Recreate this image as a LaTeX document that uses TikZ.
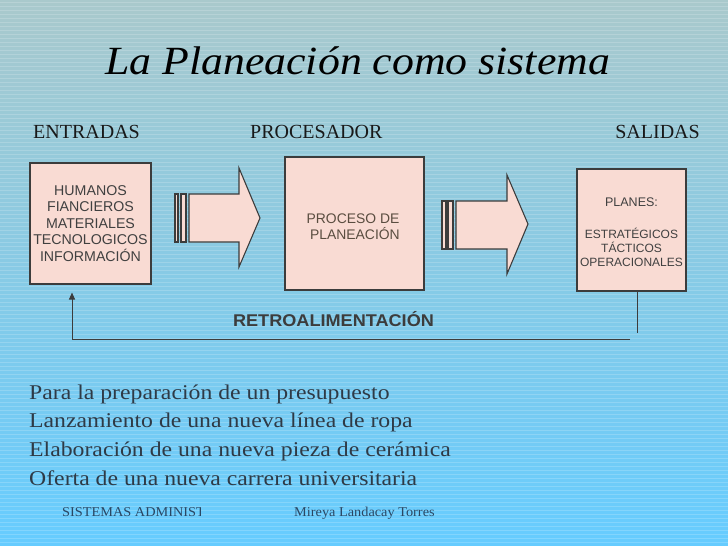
\documentclass[tikz,border=0pt]{standalone}
\usepackage{graphicx}
\usepackage{fontspec}
\setmainfont{Liberation Serif}
\newfontfamily\arialf{Liberation Sans}
\usetikzlibrary{arrows.meta}
\definecolor{bgtop}{HTML}{A9C9CC}
\definecolor{bgmid}{HTML}{8DCDE4}
\definecolor{bgbot}{HTML}{66CCFF}
\definecolor{pinkbox}{HTML}{F9DBD3}
\definecolor{edge}{HTML}{3C3C3C}
\definecolor{boxtxt}{HTML}{404040}
\definecolor{bodytxt}{HTML}{2E3A46}
\definecolor{foottxt}{HTML}{2A4763}
\tikzset{
  pbox/.style={draw=edge, line width=1.1pt, fill=pinkbox, text=boxtxt, align=center, inner sep=0pt, font=\arialf},
  barrow/.style={draw=edge, line width=1.1pt, fill=pinkbox},
  feed/.style={draw=edge, line width=1pt},
  hdr/.style={anchor=base west, inner sep=0pt, text=black!90, font=\fontsize{20}{23}\selectfont},
  bodyline/.style={anchor=base west, inner sep=0pt, text=bodytxt, font=\fontsize{21}{25}\selectfont},
  foot/.style={anchor=base west, inner sep=0pt, text=foottxt, font=\fontsize{13.5}{15}\selectfont}
}
\newcommand{\bodys}[1]{\scalebox{1.13}[1]{#1}}
\begin{document}
\begin{tikzpicture}[x=1pt,y=-1pt]
\useasboundingbox (0,0) rectangle (728,546);
% background
\shade[top color=bgtop, middle color=bgmid, bottom color=bgbot] (0,0) rectangle (728,546);
\foreach \i in {2,6,...,546} {
  \draw[white, opacity=0.18, line width=0.7pt] (0,\i) -- (728,\i);
}
% title
\node[anchor=base west, inner sep=0pt, font=\fontsize{40}{44}\selectfont\itshape] (title) at (105,74) {\scalebox{1.095}[1]{La Planeación como sistema}};
% headers
\node[hdr] (hin) at (33,138) {ENTRADAS};
\node[hdr] (hproc) at (250,138) {PROCESADOR};
\node[hdr, anchor=base east] (hout) at (700,138) {SALIDAS};
% boxes
\node[pbox, minimum width=121pt, minimum height=121pt, font=\arialf\fontsize{14.2}{16.5}\selectfont] (entradas) at (90.5,223.5)
  {HUMANOS\\FIANCIEROS\\MATERIALES\\TECNOLOGICOS\\INFORMACIÓN};
\node[pbox, minimum width=139pt, minimum height=133pt] (proceso) at (354.5,223.5) {};
\node[text=boxtxt!80!brown, align=center, inner sep=0pt, font=\arialf\fontsize{13.9}{15.5}\selectfont] (proctxt) at (353,226.5) {PROCESO DE\\\ PLANEACIÓN};
\node[pbox, minimum width=109pt, minimum height=122pt] (planes) at (631.5,230) {};
\node[text=boxtxt, align=center, inner sep=0pt, font=\arialf\fontsize{12}{14}\selectfont] (planestxt) at (631.5,232)
  {{\fontsize{12.5}{14}\selectfont PLANES:}\\[18pt]ESTRATÉGICOS\\TÁCTICOS\\OPERACIONALES};
% block arrows
\draw[barrow] (175,194) rectangle (178,242);
\draw[barrow] (181,194) rectangle (186,242);
\draw[barrow] (189,194) -- (239,194) -- (239,168) -- (260,218) -- (239,267) -- (239,242) -- (189,242) -- cycle;
\draw[barrow] (442,201) rectangle (446,249);
\draw[barrow] (448,201) rectangle (453,249);
\draw[barrow] (456,201) -- (507,201) -- (507,175) -- (528,224) -- (507,274) -- (507,249) -- (456,249) -- cycle;
% feedback
\coordinate (fb1) at (637,333);
\coordinate (fb2) at (630,339);
\coordinate (fb3) at (72,339);
\draw[feed] (planes.south -| fb1) -- (fb1);
\draw[feed, -{Triangle[length=7pt,width=6pt]}, shorten >=8pt] (fb2) -- (fb3) -- (entradas.south -| fb3);
\node[text=edge, inner sep=0pt, font=\arialf\bfseries\fontsize{17}{19}\selectfont] (retro) at (333.5,319) {\scalebox{1.065}[1]{RETROALIMENTACIÓN}};
% body lines
\node[bodyline] (l1) at (29,399) {\bodys{Para la preparación de un presupuesto}};
\node[bodyline] (l2) at (29,427) {\bodys{Lanzamiento de una nueva línea de ropa}};
\node[bodyline] (l3) at (29,456) {\bodys{Elaboración de una nueva pieza de cerámica}};
\node[bodyline] (l4) at (29,485) {\bodys{Oferta de una nueva carrera universitaria}};
% footer
\begin{scope}
\clip (0,490) rectangle (200,530);
\node[foot] (f1) at (62,516) {\scalebox{1.06}[1]{SISTEMAS ADMINIST}};
\end{scope}
\node[foot] (f2) at (294,516) {\scalebox{1.06}[1]{Mireya Landacay Torres}};
\end{tikzpicture}
\end{document}
